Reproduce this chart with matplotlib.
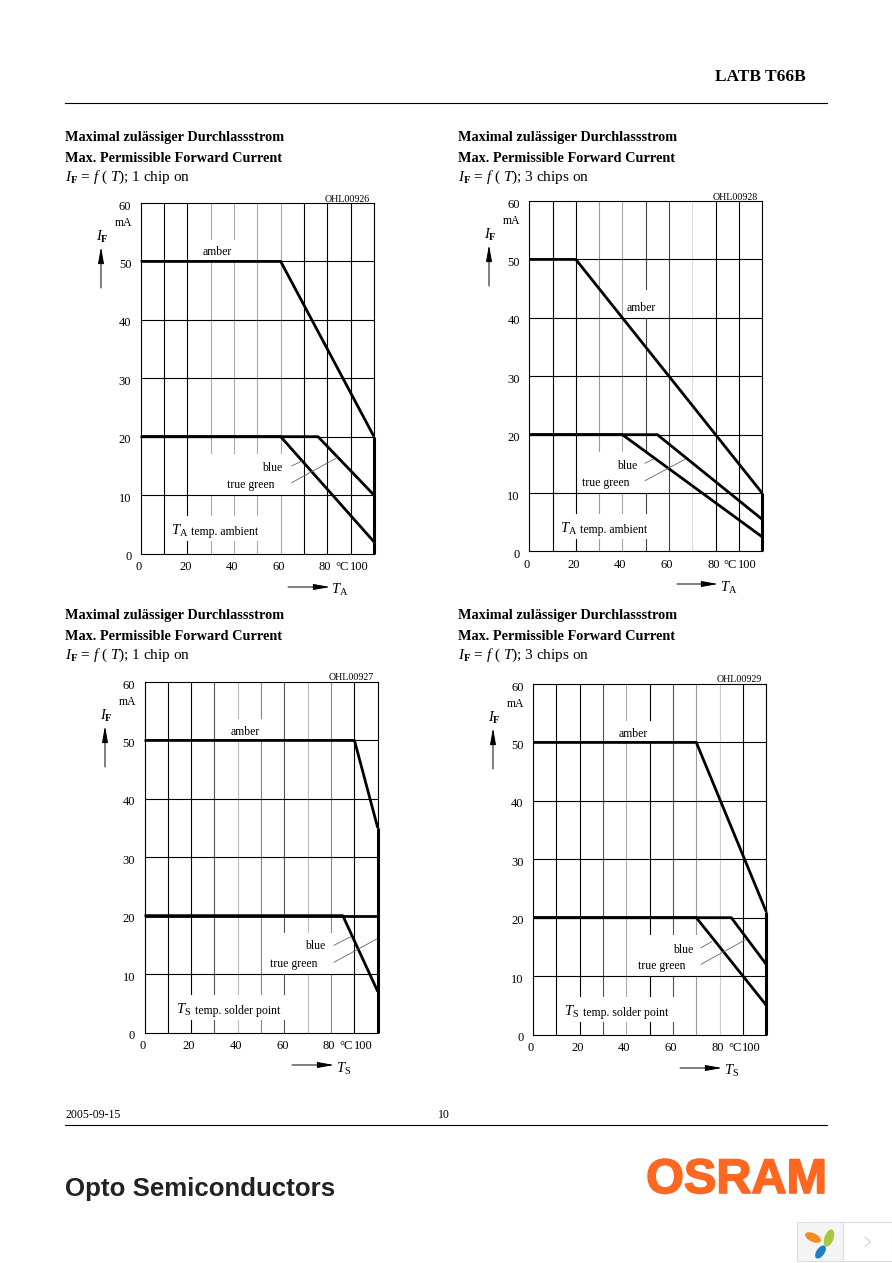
import matplotlib
matplotlib.use('Agg')
import matplotlib.pyplot as plt
from matplotlib.patches import Rectangle, Ellipse
import matplotlib.patheffects as pe

plt.rcParams['font.family'] = ['Liberation Serif', 'DejaVu Sans']
plt.rcParams['mathtext.fontset'] = 'custom'
plt.rcParams['mathtext.rm'] = 'Liberation Serif'
plt.rcParams['mathtext.it'] = 'Liberation Serif:italic'
plt.rcParams['mathtext.bf'] = 'Liberation Serif:bold'

W, H = 892, 1263

# curves (temperature, current)
amber_a = [[0, 60, 100], [50, 50, 20]]
green_a = [[0, 76, 100], [20, 20, 10]]
blue_a = [[0, 60, 100], [20, 20, 2]]
amber_b = [[0, 20, 100], [50, 50, 10]]
green_b = [[0, 55, 100], [20, 20, 5.5]]
blue_b = [[0, 40, 100], [20, 20, 2.5]]
amber_c = [[0, 90, 100], [50, 50, 35]]
green_c = [[0, 100], [20, 20]]
blue_c = [[0, 85, 100], [20, 20, 7]]
amber_d = [[0, 70, 100], [50, 50, 21]]
green_d = [[0, 85, 100], [20, 20, 12]]
blue_d = [[0, 70, 100], [20, 20, 5]]

x_ticks = [0, 20, 40, 60, 80]
y_ticks = [0, 10, 20, 30, 40, 50, 60]
x_grid = [10, 20, 30, 40, 50, 60, 70, 80, 90]
y_grid = [10, 20, 30, 40, 50]

title_de = 'Maximal zulässiger Durchlassstrom'
title_en = 'Max. Permissible Forward Current'

panels = [
    dict(box=(140.7, 203, 233.3, 350.5), curves=(amber_a, green_a, blue_a), right=20, code='OHL00926',
         sym='A', note='temp. ambient', chips='1 chip on', head=(65, 136),
         amber=(217, 252), blue=(272, 468), green=(251, 485), noteat=(180, 532),
         lead=[(291.7, 466, 301.7, 461), (291.7, 482.7, 337, 457.7)],
         arrow=(288, 330, 587), sympos=(340, 590), yarrow=(101, 288, 247),
         top={30: (50, 53.8), 40: (50, 53.8)},
         mid=[30, 40, 50, 60], low=[20, 30, 40, 50],
         grey={30: '#aaaaaa', 40: '#aaaaaa', 50: '#aaaaaa', 60: '#aaaaaa'}),
    dict(box=(529.2, 201, 233, 350.5), curves=(amber_b, green_b, blue_b), right=10, code='OHL00928',
         sym='A', note='temp. ambient', chips='3 chips on', head=(458, 136),
         amber=(641, 308), blue=(627, 466), green=(606, 483), noteat=(569, 530),
         lead=[(645, 480.7, 685, 459.3), (645, 463.3, 653.3, 459)],
         arrow=(677, 718, 584), sympos=(729, 588), yarrow=(489, 286, 245),
         top={50: (40, 45)},
         mid=[30, 40, 50], low=[20, 30, 40, 50],
         grey={30: '#999999', 40: '#aaaaaa', 50: '#444444', 60: '#444444', 70: '#dddddd'}),
    dict(box=(144.5, 682, 233.3, 350.5), curves=(amber_c, green_c, blue_c), right=35, code='OHL00927',
         sym='S', note='temp. solder point', chips='1 chip on', head=(65, 614),
         amber=(245, 732), blue=(315, 946), green=(294, 964), noteat=(184, 1011),
         lead=[(334, 945.3, 350.7, 936.7), (334, 962.3, 376.7, 939)],
         arrow=(292, 334, 1065), sympos=(344, 1069), yarrow=(105, 767, 726),
         top={40: (50, 53.8), 50: (50, 53.8)},
         mid=[60, 70, 80], low=[20, 30, 40, 50, 60],
         grey={30: '#555555', 40: '#bbbbbb', 50: '#888888', 60: '#555555', 70: '#bbbbbb', 80: '#888888'}),
    dict(box=(533, 684, 233.3, 350.5), curves=(amber_d, green_d, blue_d), right=21, code='OHL00929',
         sym='S', note='temp. solder point', chips='3 chips on', head=(458, 614),
         amber=(633, 734), blue=(683, 950), green=(662, 966), noteat=(572, 1013),
         lead=[(701, 947.7, 711.7, 941.7), (701, 964.3, 745, 940)],
         arrow=(680, 722, 1068), sympos=(732, 1071), yarrow=(493, 769, 728),
         top={40: (50, 53.8), 50: (50, 53.8)},
         mid=[50, 60, 70], low=[20, 30, 40, 50, 60],
         grey={30: '#555555', 40: '#aaaaaa', 60: '#555555', 70: '#999999', 80: '#cccccc'}),
]

fig = plt.figure(figsize=(W / 100, H / 100), dpi=100)
pg = fig.add_axes([0, 0, 1, 1], zorder=5)
pg.set_xlim(0, W)
pg.set_ylim(H, 0)
pg.axis('off')
pg.patch.set_alpha(0)


def segments(gaps):
    # turn a list of gaps into the stretches of a grid line that are drawn
    parts = []
    start = 0
    for lo, hi in sorted(gaps):
        parts.append((start, lo))
        start = hi
    parts.append((start, 60))
    return parts


for p in panels:
    left, top, w, h = p['box']
    ax = fig.add_axes([left / W, 1 - (top + h) / H, w / W, h / H])
    ax.set_xlim(0, 100)
    ax.set_ylim(0, 60)
    ax.set_xticks([])
    ax.set_yticks([])
    for s in ax.spines.values():
        s.set_linewidth(0.8)
        s.set_color('black')

    for x in x_grid:
        gaps = []
        if x in p['top']:
            gaps.append(p['top'][x])
        if x in p['mid']:
            gaps.append((10, 17.2))
        if x in p['low']:
            gaps.append((2.1, 6.6))
        for a, b in segments(gaps):
            ax.plot([x, x], [a, b], color=p['grey'].get(x, 'black'), lw=0.8, zorder=1)
    for y in y_grid:
        ax.axhline(y, color='black', lw=0.8, zorder=1)

    amber, green, blue = p['curves']
    for c in (blue, green, amber):
        ax.plot(c[0], c[1], color='black', lw=2.0, zorder=3, clip_on=False, solid_capstyle='butt')
    ax.plot([100, 100], [0, p['right']], color='black', lw=2.2, zorder=3, clip_on=False, solid_capstyle='butt')

    for v in x_ticks:
        ax.text(v - 0.9, -2.25, str(v), ha='center', va='center', fontsize=9, clip_on=False)
    ax.text(86.4, -2.25, '°C', ha='center', va='center', fontsize=9, clip_on=False)
    ax.text(93.6, -2.25, '100', ha='center', va='center', fontsize=9, clip_on=False)
    for v in y_ticks:
        ax.text(-4.0, v - 0.6, str(v), ha='right', va='center', fontsize=9, clip_on=False)
    ax.text(-3.6, 56.5, 'mA', ha='right', va='center', fontsize=8.5, clip_on=False)

    # headings
    hx, hy = p['head']
    pg.text(hx, hy + 1.5, title_de, fontsize=10.3, fontweight='bold', va='center')
    pg.text(hx, hy + 22.5, title_en, fontsize=10.3, fontweight='bold', va='center')
    pg.text(hx, hy + 41, r'$I_{\mathbf{F}}$ = $f$ ( $T$); ' + p['chips'], fontsize=11, va='center')
    pg.text(left + w - 4, top - 4, p['code'], fontsize=7.2, ha='right', va='center')

    # curve names and leader lines
    pg.text(p['amber'][0], p['amber'][1], 'amber', fontsize=8.5, ha='center', va='center')
    pg.text(p['blue'][0], p['blue'][1], 'blue', fontsize=8.5, ha='center', va='center')
    pg.text(p['green'][0], p['green'][1], 'true green', fontsize=8.5, ha='center', va='center')
    for x0, y0, x1, y1 in p['lead']:
        pg.plot([x0, x1], [y0, y1], color='#666666', lw=0.6)
    pg.text(p['noteat'][0], p['noteat'][1] - 1, '$T_{\\mathrm{%s}}$' % p['sym'], fontsize=10.5, ha='center', va='center')
    pg.text(p['noteat'][0] + 11, p['noteat'][1], p['note'], fontsize=8.5, ha='left', va='center')

    # axis arrows
    x0, x1, ya = p['arrow']
    pg.annotate('', xy=(x1, ya), xytext=(x0, ya),
                arrowprops=dict(arrowstyle='-|>,head_length=1.0,head_width=0.18', color='black', lw=0.7,
                                shrinkA=0, shrinkB=0))
    pg.text(p['sympos'][0], p['sympos'][1], '$T_{\\mathrm{%s}}$' % p['sym'], fontsize=10.5, ha='center', va='center')
    xa, y0, y1 = p['yarrow']
    pg.annotate('', xy=(xa, y1), xytext=(xa, y0),
                arrowprops=dict(arrowstyle='-|>,head_length=1.0,head_width=0.18', color='black', lw=0.7,
                                shrinkA=0, shrinkB=0))
    pg.text(xa + 1, y1 - 10, r'$I_{\mathbf{F}}$', fontsize=10.5, ha='center', va='center')

# page header and footer
pg.text(806, 77, 'LATB T66B', fontsize=12.5, fontweight='bold', ha='right', va='center')
pg.plot([65, 827], [103, 103], color='black', lw=0.8)
pg.plot([65, 827], [1125, 1125], color='black', lw=0.8)
pg.text(65, 1115, '2005-09-15', fontsize=8.5, va='center')
pg.text(443.5, 1115, '10', fontsize=8.5, ha='center', va='center')
pg.text(65, 1189, 'Opto Semiconductors', fontsize=18.6, fontweight='bold', va='center',
        family='Liberation Sans', color='#222222')
pg.text(827, 1180.5, 'OSRAM', fontsize=35, fontweight='bold', ha='right', va='center',
        family='Liberation Sans', color='#fd6720',
        path_effects=[pe.withStroke(linewidth=1.2, foreground='#fd6720')])

# small badge in the corner of the page
pg.add_patch(Rectangle((796.5, 1221.5), 46, 39, fc='#f5f5f5', ec='#dddddd', lw=0.8))
pg.add_patch(Rectangle((842.5, 1221.5), 49, 39, fc='white', ec='#dddddd', lw=0.8))
pg.plot([865, 870.5, 865], [1237, 1242, 1246.5], color='#cccccc', lw=0.7)
pg.add_patch(Ellipse((813, 1237.5), 17, 8.5, angle=25, fc='#ef8a25', ec='none'))
pg.add_patch(Ellipse((829, 1238), 9, 18, angle=20, fc='#a9c83c', ec='none'))
pg.add_patch(Ellipse((820.5, 1252), 8, 15, angle=35, fc='#1f7fc4', ec='none'))

fig.savefig('out.png', dpi=100)
